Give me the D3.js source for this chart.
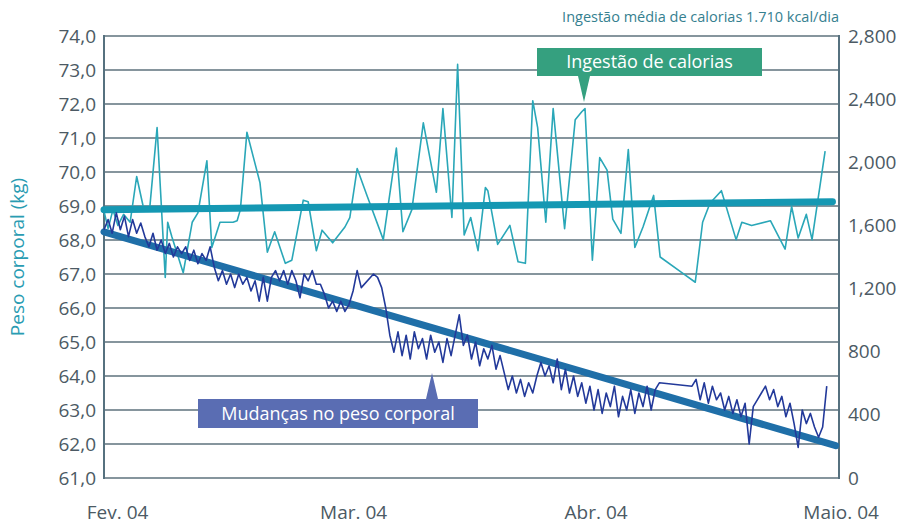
<!DOCTYPE html>
<html>
<head>
<meta charset="utf-8">
<script src="https://cdn.jsdelivr.net/npm/d3@7"></script>
<style>
  body { margin: 0; background: #ffffff; }
  svg { display: block; font-family: "Open Sans", "Noto Sans", sans-serif; }
</style>
</head>
<body>
<div id="chart"></div>
<script>
// Data
//==================
var monthLabels = ["Fev. 04", "Mar. 04", "Abr. 04", "Maio. 04"];
var monthDays = [1.6, 30.5, 60.2, 90.2];

var kgTicks = [61, 62, 63, 64, 65, 66, 67, 68, 69, 70, 71, 72, 73, 74];
var kcalTicks = [0, 400, 800, 1200, 1600, 2000, 2400, 2800];

// daily calorie intake (day since Feb 1, kcal)
var calDay = [0, 0.5, 1.1, 1.7, 2.4, 3.2, 4.0, 4.8, 5.6, 6.5, 7.5, 7.8, 8.3, 9.7, 10.8, 11.5, 12.6, 13.2,
  14.2, 15.8, 16.3, 16.7, 17.5, 19.1, 20.0, 20.9, 22.2, 23.0, 24.4, 25.0, 26.0, 26.7, 28.0, 29.5, 30.1,
  31.0, 32.2, 34.2, 35.8, 36.6, 37.7, 39.1, 40.7, 41.5, 42.6, 43.3, 44.1, 44.9, 45.8, 46.7, 47.0, 48.2,
  49.7, 50.7, 51.6, 52.5, 53.1, 54.1, 55.0, 56.4, 57.7, 58.5, 58.9, 59.8, 60.7, 61.6, 62.3, 63.3, 64.2,
  65.0, 66.0, 67.3, 68.1, 70.8, 72.4, 73.3, 74.2, 75.6, 77.4, 78.1, 79.3, 81.6, 83.4, 84.2, 85.0, 86.0,
  86.7, 88.3];
var calKcal = [1690, 1580, 1700, 1600, 1670, 1620, 1910, 1720, 1710, 2220, 1270, 1620, 1530, 1300, 1620, 1680, 2010, 1460,
  1620, 1620, 1630, 1700, 2190, 1870, 1430, 1560, 1360, 1380, 1760, 1750, 1440, 1570, 1490, 1590, 1650,
  1960, 1790, 1510, 2090, 1560, 1700, 2250, 1810, 2340, 1650, 2620, 1540, 1650, 1440, 1840, 1820, 1480,
  1600, 1370, 1360, 2390, 2220, 1620, 2340, 1580, 2270, 2320, 2340, 1380, 2030, 1950, 1640, 1550, 2080,
  1460, 1590, 1790, 1400, 1300, 1240, 1620, 1740, 1820, 1510, 1620, 1600, 1630, 1450, 1720, 1520, 1670,
  1510, 2070];

// body weight, twice a day from Feb 1 (kg, null = not weighed)
var weightStep = 0.5;
var weightKg = [68.3, 68.6, 68.2, 68.8, 68.3, 68.7, 68.1, 68.6, 68.2, 68.5,
  68.1, 67.8, 68.2, 67.7, 68.0, 67.6, 67.9, 67.5, 67.8, 67.6,
  67.8, 67.4, 67.7, 67.3, 67.6, 67.4, 67.8,
  67.2, 66.8, 67.1, 66.7, 67.0, 66.6, 67.0, 66.7, 66.9, 66.5, 66.8, 66.2, 66.9,
  66.2, 66.9, 67.1, 66.8, 67.1, 66.7, 67.1, 66.8, 66.3, 67.0, 66.8, 67.1, 66.7,
  66.7, 66.4,
  66.0, 66.2, 65.9, 66.2, 65.9, 66.1, 66.5,
  67.1, 66.6, null, null, 67.0, 66.9, 66.6, 66.0, 65.2, 64.7,
  65.3, 64.6, 65.2, 64.5, 65.3, 64.8, 65.1, 64.5, 65.2, 64.7, 65.0, 64.4, 65.1, 64.6, 65.2, 65.8,
  64.9, 65.2, 64.5, 65.0, 64.3, 64.8, 64.5, 64.9, 64.2, 64.6,
  64.1, 63.6, 64.0, 63.5, 63.9, 63.4, 63.8, 63.5, 64.0,
  64.4, 64.0, 64.3, 63.8, 64.5, 63.6, 64.2, 63.5, 64.0, 63.4,
  63.8, 63.2, 63.7, 63.0, 63.6, 62.9, 63.5, 63.1, 63.7, 62.8, 63.4, 63.0, 63.6, 62.9, 63.5, 63.1, 63.7, 63.0, 63.6, 63.8,
  null, null, null, null, null, null, null,
  63.7, 63.9, 63.3, 63.8, 63.2, 63.7, 63.3, 63.5, 63.0, 63.4, 62.9, 63.3, 62.8, 63.2,
  62.0, 63.1, 63.3, 63.5, 63.7, 63.3, 63.6, 63.1, 63.4, 62.8, 63.2, 62.6, 61.9, 63.0, 62.6, 62.9, 62.5, 62.2, 62.5, 63.7];

// trend lines [day, value]
var weightTrend = [[0, 68.24], [89.6, 61.95]];
var calTrend = [[0, 1700], [89.2, 1750]];

var svgWidth = 906;
var svgHeight = 529;

var svg = d3.select("#chart").append("svg")
  .attr("width", svgWidth)
  .attr("height", svgHeight);

// Scales
//==================
var xScale = d3.scaleLinear().domain([0, 90]).range([104, 839]);
var yKg = d3.scaleLinear().domain([61, 74]).range([478, 36]);
var yCal = d3.scaleLinear().domain([0, 2800]).range([478, 36]);

// Gridlines
svg.append("g")
  .selectAll("line")
  .data(kgTicks)
  .enter()
  .append("line")
  .attr("x1", xScale(0))
  .attr("x2", xScale(90))
  .attr("y1", d => yKg(d))
  .attr("y2", d => yKg(d))
  .attr("stroke", "#5e727d")
  .attr("stroke-width", 1.6);

// side borders
svg.append("g")
  .selectAll("line")
  .data([0, 90])
  .enter()
  .append("line")
  .attr("x1", d => xScale(d))
  .attr("x2", d => xScale(d))
  .attr("y1", yKg(74) - 1)
  .attr("y2", yKg(61) + 1)
  .attr("stroke", "#56717f")
  .attr("stroke-width", 2);

// Axes
//==================
var leftAxis = d3.axisLeft(yKg)
  .tickValues(kgTicks)
  .tickSize(0)
  .tickPadding(8)
  .tickFormat(d => d.toFixed(1).replace(".", ","));

var rightAxis = d3.axisRight(yCal)
  .tickValues(kcalTicks)
  .tickSize(0)
  .tickPadding(9)
  .tickFormat(d3.format(","));

var bottomAxis = d3.axisBottom(xScale)
  .tickValues(monthDays)
  .tickSize(0)
  .tickPadding(28)
  .tickFormat((d, i) => monthLabels[i]);

function styleAxis(g) {
  g.select(".domain").remove();
  g.selectAll("text")
    .attr("fill", "#4c5a64")
    .style("font-size", "19px")
    .style("font-family", "'Open Sans', sans-serif");
}

svg.append("g").attr("transform", "translate(" + xScale(0) + ",0)").call(leftAxis).call(styleAxis);
svg.append("g").attr("transform", "translate(" + xScale(90) + ",0)").call(rightAxis).call(styleAxis);
svg.append("g").attr("transform", "translate(0," + yKg(61) + ")").call(bottomAxis).call(styleAxis);

// Lines
//==================
var calLine = d3.line()
  .x((d, i) => xScale(calDay[i]))
  .y(d => yCal(d));

svg.append("path")
  .datum(calKcal)
  .attr("d", calLine)
  .attr("fill", "none")
  .attr("stroke", "#2aa7b8")
  .attr("stroke-width", 1.6)
  .attr("stroke-linejoin", "round");

svg.append("path")
  .datum(calTrend)
  .attr("d", d3.line().x(d => xScale(d[0])).y(d => yCal(d[1])))
  .attr("fill", "none")
  .attr("stroke", "#1598b3")
  .attr("stroke-width", 7)
  .attr("stroke-linecap", "round");

svg.append("path")
  .datum(weightTrend)
  .attr("d", d3.line().x(d => xScale(d[0])).y(d => yKg(d[1])))
  .attr("fill", "none")
  .attr("stroke", "#1f6fa8")
  .attr("stroke-width", 7)
  .attr("stroke-linecap", "round");

var weightPoints = weightKg
  .map((v, i) => [i * weightStep, v])
  .filter(d => d[1] !== null);

svg.append("path")
  .datum(weightPoints)
  .attr("d", d3.line().x(d => xScale(d[0])).y(d => yKg(d[1])))
  .attr("fill", "none")
  .attr("stroke", "#22399a")
  .attr("stroke-width", 1.6)
  .attr("stroke-linejoin", "round");

// Labels
//==================
svg.append("text")
  .attr("transform", "translate(24, 257) rotate(-90)")
  .attr("text-anchor", "middle")
  .attr("fill", "#2a9cb2")
  .style("font-size", "19px")
  .text("Peso corporal (kg)");

svg.append("text")
  .attr("x", xScale(90))
  .attr("y", 22)
  .attr("text-anchor", "end")
  .attr("fill", "#35808f")
  .style("font-size", "14.5px")
  .text("Ingestão média de calorias 1.710 kcal/dia");

// callout boxes
function callout(x0, x1, y0, y1, tipX, tipY, color, label) {
  var g = svg.append("g");
  var baseY = tipY > y1 ? y1 : y0;
  g.append("rect")
    .attr("x", x0).attr("y", y0)
    .attr("width", x1 - x0).attr("height", y1 - y0)
    .attr("fill", color);
  g.append("path")
    .attr("d", "M" + (tipX - 6) + "," + baseY + "L" + tipX + "," + tipY + "L" + (tipX + 6) + "," + baseY + "Z")
    .attr("fill", color);
  g.append("text")
    .attr("x", (x0 + x1) / 2)
    .attr("y", (y0 + y1) / 2 + 6)
    .attr("text-anchor", "middle")
    .attr("fill", "#ffffff")
    .style("font-size", "18px")
    .text(label);
}

callout(537, 762, 48, 76, 584, 102, "#35a07f", "Ingestão de calorias");
callout(198, 478, 399, 428, 432, 373, "#5a6db3", "Mudanças no peso corporal");
</script>
</body>
</html>
